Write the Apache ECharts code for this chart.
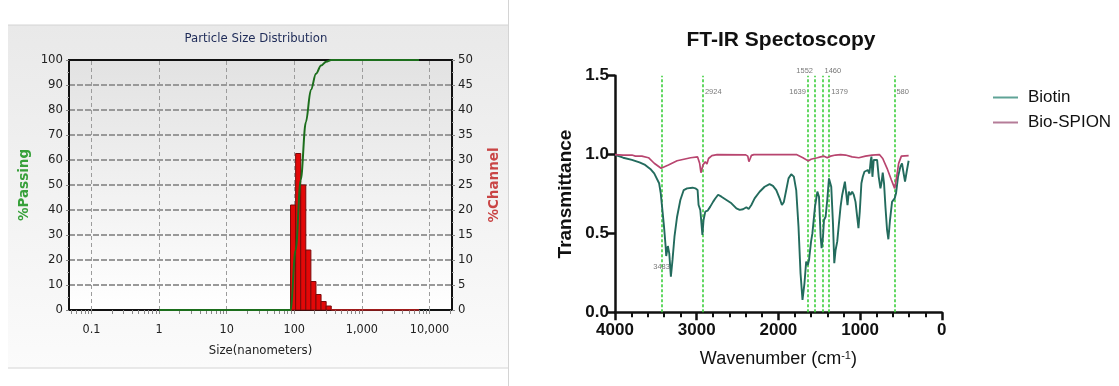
<!DOCTYPE html>
<html><head><meta charset="utf-8">
<script src="https://cdn.jsdelivr.net/npm/echarts@6/dist/echarts.min.js"></script>
<style>html,body{margin:0;padding:0;background:#fff}#c{width:1119px;height:386px}</style>
</head><body><div id="c"></div>
<script>
// ---------- Particle Size Distribution (left) ----------
const psdTickValues = [0.1, 1, 10, 100, 1000, 10000];
const psdTickLabels = ['0.1', '1', '10', '100', '1,000', '10,000'];
const psdRange = [0.0466, 21500];
const channelEdges = [88, 104.7, 124.5, 148, 176, 209.3, 248.9, 296, 352];
const channelPercent = [21, 31.3, 25, 12, 5.7, 3.1, 1.7, 0.8];
const channelZeroSizes = [352, 7000];
const channelZeroValues = [0, 0];
const passingSizes = [1, 88, 104.7, 124.5, 148, 176, 209.3, 248.9, 296, 352, 7000];
const passingPercent = [0, 0, 24, 52, 75, 88, 94.5, 97.8, 99.3, 100, 100];

// ---------- FT-IR Spectroscopy (right) ----------
const biotinWave = [4000,3900,3793,3700,3631,3560,3520,3460,3440,3420,3400,3380,3373,3353,3336,3316,3296,3272,3240,3200,3159,3118,3050,3017,2989,2977,2956,2930,2916,2895,2867,2834,2800,2775,2738,2697,2636,2575,2514,2474,2433,2392,2364,2331,2291,2230,2169,2108,2067,2026,1985,1957,1933,1904,1876,1843,1811,1782,1754,1729,1705,1681,1660,1640,1625,1600,1584,1552,1523,1503,1483,1471,1454,1442,1422,1402,1381,1369,1353,1332,1316,1300,1280,1259,1239,1219,1207,1186,1170,1154,1138,1117,1097,1077,1056,1036,1020,1004,984,967,947,926,906,886,869,861,849,833,813,792,772,751,739,723,707,690,670,654,634,609,589,577,560,536,507,487,467,450,430,406];
const biotinT = [0.998,0.98,0.966,0.95,0.934,0.905,0.881,0.818,0.754,0.649,0.543,0.416,0.357,0.42,0.374,0.226,0.332,0.479,0.606,0.712,0.775,0.786,0.79,0.786,0.775,0.68,0.649,0.49,0.585,0.638,0.644,0.67,0.70,0.72,0.745,0.733,0.712,0.691,0.659,0.649,0.653,0.666,0.655,0.68,0.722,0.764,0.796,0.813,0.802,0.775,0.722,0.68,0.70,0.775,0.849,0.875,0.86,0.775,0.543,0.247,0.078,0.184,0.321,0.30,0.332,0.45,0.50,0.67,0.765,0.733,0.479,0.406,0.479,0.585,0.606,0.712,0.849,0.855,0.796,0.564,0.311,0.395,0.448,0.564,0.67,0.744,0.733,0.828,0.754,0.68,0.765,0.744,0.765,0.744,0.70,0.606,0.533,0.638,0.818,0.859,0.891,0.88,0.902,0.88,0.966,0.987,0.859,0.966,0.97,0.966,0.859,0.786,0.818,0.886,0.818,0.67,0.522,0.463,0.585,0.70,0.70,0.722,0.754,0.859,0.923,0.944,0.88,0.828,0.891,0.961];
const spionWave = [4000,3900,3793,3750,3732,3700,3671,3590,3520,3436,3346,3240,3074,2989,2964,2948,2923,2895,2875,2855,2814,2750,2400,2375,2361,2345,2330,2300,1780,1700,1636,1600,1564,1523,1483,1462,1442,1402,1361,1300,1239,1178,1097,1016,935,853,764,723,670,617,577,552,528,495,406];
const spionT = [1.0,0.997,0.997,0.99,0.992,0.99,0.99,0.98,0.945,0.913,0.934,0.961,0.98,0.985,0.945,0.885,0.934,0.955,0.94,0.975,0.993,1.0,0.998,0.99,0.955,0.975,0.995,1.0,1.0,0.98,0.96,0.97,0.975,0.98,0.985,0.975,0.99,0.98,0.99,0.997,1.0,0.997,0.985,0.98,0.99,0.997,1.0,0.975,0.913,0.839,0.786,0.859,0.944,0.99,0.993];
const peakWave = [3430, 2924, 1639, 1552, 1460, 1379, 580];
const peakText = ['3483', '2924', '1639', '1552', '1460', '1379', '580'];

// annotation placement (not data)
const peakLabelLevel = [0.29, 1.40, 1.40, 1.53, 1.53, 1.40, 1.40];
const peakLabelSide = ['inside', 'right', 'left', 'left', 'right', 'right', 'right'];

const lg = Math.log10;
const minorTicks = [];
for (let e = -2; e <= 4; e++) for (let k = 1; k <= 9; k++) {
  const v = k * Math.pow(10, e);
  if (v >= psdRange[0] && v <= psdRange[1]) minorTicks.push(lg(v));
}
const barData = channelPercent.map((v, i) => [lg(channelEdges[i]), lg(channelEdges[i + 1]), v]);
const passingData = passingSizes.map((s, i) => [lg(s), passingPercent[i]]);
const zeroData = channelZeroSizes.map((s, i) => [lg(s), channelZeroValues[i]]);
const biotinData = biotinWave.map((w, i) => [w, biotinT[i]]);
const spionData = spionWave.map((w, i) => [w, spionT[i]]);
const peakLabelData = peakWave.map((w, i) => ({
  value: [w, peakLabelLevel[i]],
  label: { show: true, formatter: peakText[i], position: peakLabelSide[i], distance: 2 }
}));

const smallFont = 'DejaVu Sans Condensed';
const arial = 'Liberation Sans, Arial';
const chart = echarts.init(document.getElementById('c'), null, { renderer: 'canvas' });
chart.setOption({
  animation: false,
  backgroundColor: '#ffffff',
  graphic: [
    { type: 'rect', z: -100, shape: { x: 8, y: 25, width: 500, height: 343 },
      style: { fill: new echarts.graphic.LinearGradient(0, 0, 0, 1, [
        { offset: 0, color: '#e9e9e9' }, { offset: 1, color: '#fbfbfb' }]) } },
    { type: 'line', z: -99, shape: { x1: 8, y1: 25, x2: 508, y2: 25 }, style: { stroke: '#d4d4d4', lineWidth: 1 } },
    { type: 'line', z: -99, shape: { x1: 8, y1: 368, x2: 508, y2: 368 }, style: { stroke: '#d4d4d4', lineWidth: 1 } },
    { type: 'line', z: -99, shape: { x1: 508.5, y1: 0, x2: 508.5, y2: 386 }, style: { stroke: '#d4d4d4', lineWidth: 1 } },
    { type: 'text', x: 256, y: 39, style: { text: 'Particle Size Distribution', font: '13px "DejaVu Sans Condensed"', fill: '#1d2a57', align: 'center', verticalAlign: 'middle' } },
    { type: 'text', x: 781, y: 40, style: { text: 'FT-IR Spectoscopy', font: 'bold 21px "Liberation Sans", Arial', fill: '#111', align: 'center', verticalAlign: 'middle' } }
  ],
  grid: [
    { left: 69, top: 60, width: 383, height: 250, show: true, borderColor: '#111', borderWidth: 2,
      backgroundColor: new echarts.graphic.LinearGradient(0, 0, 0, 1, [
        { offset: 0, color: '#e2e2e2' }, { offset: 1, color: '#ffffff' }]),
      containLabel: false, outerBoundsMode: 'none' },
    { left: 615, top: 75.7, width: 326.8, height: 236.6, containLabel: false, outerBoundsMode: 'none' }
  ],
  legend: {
    orient: 'vertical', left: 988, top: 84, itemWidth: 25, itemHeight: 2, itemGap: 8, icon: 'rect',
    textStyle: { fontSize: 17, color: '#111', fontFamily: arial, padding: [0, 0, 0, 5] },
    data: [
      { name: 'Biotin', itemStyle: { color: '#5fa396' } },
      { name: 'Bio-SPION', itemStyle: { color: '#b57c98' } }
    ]
  },
  xAxis: [
    { gridIndex: 0, type: 'value', min: lg(psdRange[0]), max: lg(psdRange[1]),
      name: 'Size(nanometers)', nameLocation: 'middle', nameGap: 34,
      nameTextStyle: { fontFamily: smallFont, fontSize: 13, color: '#222' },
      axisLine: { show: true, onZero: false, lineStyle: { color: '#111', width: 2 } },
      axisTick: { show: true, customValues: minorTicks, length: 4, lineStyle: { color: '#888' } },
      axisLabel: { customValues: psdTickValues.map(lg), margin: 13, fontFamily: smallFont, fontSize: 12.5, color: '#222',
        formatter: v => { const i = psdTickValues.findIndex(t => Math.abs(lg(t) - v) < 1e-6); return i >= 0 ? psdTickLabels[i] : ''; } },
      splitLine: { show: false } },
    { gridIndex: 1, type: 'value', inverse: true, min: 0, max: 4000, interval: 1000,
      name: 'Wavenumber (cm{sup|-1})', nameLocation: 'middle', nameGap: 38,
      nameTextStyle: { fontSize: 18, color: '#111', fontFamily: arial,
        rich: { sup: { fontSize: 11, verticalAlign: 'top', color: '#111', fontFamily: arial } } },
      axisLine: { show: true, onZero: false, lineStyle: { color: '#111', width: 2.5 } },
      axisTick: { show: true, length: 8, lineStyle: { color: '#111', width: 2.5 } },
      minorTick: { show: true, splitNumber: 5, length: 5, lineStyle: { color: '#111', width: 2 } },
      axisLabel: { fontSize: 17, fontWeight: 'bold', color: '#111', margin: 10, fontFamily: arial,
        formatter: v => String(v) },
      splitLine: { show: false } }
  ],
  yAxis: [
    { gridIndex: 0, type: 'value', min: 0, max: 100, interval: 10, position: 'left',
      name: '%Passing', nameLocation: 'middle', nameGap: 38, nameRotate: 90,
      nameTextStyle: { color: '#37a03a', fontWeight: 'bold', fontFamily: 'DejaVu Sans', fontSize: 13.5 },
      axisLine: { show: true, onZero: false, lineStyle: { color: '#111', width: 2 } },
      axisTick: { show: true, length: 3, lineStyle: { color: '#888' } },
      minorTick: { show: true, splitNumber: 2, length: 2, lineStyle: { color: '#aaa' } },
      axisLabel: { fontFamily: smallFont, fontSize: 13, color: '#222', margin: 6 },
      splitLine: { show: true, showMinLine: false, showMaxLine: false, lineStyle: { color: '#999', width: 2, type: [6, 2] } } },
    { gridIndex: 0, type: 'value', min: 0, max: 50, interval: 5, position: 'right',
      name: '%Channel', nameLocation: 'middle', nameGap: 35, nameRotate: 90,
      nameTextStyle: { color: '#c94545', fontWeight: 'bold', fontFamily: 'DejaVu Sans', fontSize: 13.5 },
      axisLine: { show: true, onZero: false, lineStyle: { color: '#111', width: 2 } },
      axisTick: { show: true, length: 3, lineStyle: { color: '#888' } },
      minorTick: { show: true, splitNumber: 2, length: 2, lineStyle: { color: '#aaa' } },
      axisLabel: { fontFamily: smallFont, fontSize: 13, color: '#222', margin: 6 },
      splitLine: { show: false } },
    { gridIndex: 1, type: 'value', min: 0, max: 1.5, interval: 0.5, position: 'left',
      name: 'Transmittance', nameLocation: 'middle', nameGap: 40,
      nameTextStyle: { fontSize: 19, fontWeight: 'bold', color: '#111', fontFamily: arial },
      axisLine: { show: true, onZero: false, lineStyle: { color: '#111', width: 2.5 } },
      axisTick: { show: true, length: 7, lineStyle: { color: '#111', width: 2.5 } },
      axisLabel: { fontSize: 17, fontWeight: 'bold', color: '#111', margin: 6, fontFamily: arial,
        formatter: v => v.toFixed(1) },
      splitLine: { show: false } }
  ],
  series: [
    { type: 'custom', name: 'Channel', xAxisIndex: 0, yAxisIndex: 1, z: 3,
      data: barData, encode: { x: [0, 1], y: 2 },
      renderItem: (params, api) => {
        const p0 = api.coord([api.value(0), api.value(2)]);
        const p1 = api.coord([api.value(1), 0]);
        return { type: 'rect', shape: { x: p0[0], y: p0[1], width: p1[0] - p0[0], height: p1[1] - p0[1] },
          style: { fill: '#e30808', stroke: '#7a0a0a', lineWidth: 1 } };
      } },
    { type: 'line', name: 'ChannelZero', xAxisIndex: 0, yAxisIndex: 1, z: 4, symbol: 'none',
      data: zeroData, lineStyle: { color: '#d02020', width: 1.5 } },
    { type: 'line', name: 'Passing', xAxisIndex: 0, yAxisIndex: 0, z: 5, symbol: 'none',
      smooth: 0.35, smoothMonotone: 'x', data: passingData, lineStyle: { color: '#1c6e1c', width: 2 },
      markLine: { silent: true, symbol: 'none', label: { show: false }, z: 1,
        lineStyle: { color: '#9c9c9c', width: 1, type: [4, 3] },
        data: psdTickValues.map(v => ({ xAxis: lg(v) })) } },
    { type: 'line', name: 'Biotin', xAxisIndex: 1, yAxisIndex: 2, symbol: 'none', z: 4,
      data: biotinData, lineStyle: { color: '#236b5d', width: 1.9 },
      markLine: { silent: true, symbol: 'none', label: { show: false }, z: 2,
        lineStyle: { color: '#3ccf3c', width: 1.6, type: [3, 2] },
        data: peakWave.map(w => ({ xAxis: w })) } },
    { type: 'line', name: 'Bio-SPION', xAxisIndex: 1, yAxisIndex: 2, symbol: 'none', z: 5,
      data: spionData, lineStyle: { color: '#b8456f', width: 1.7 } },
    { type: 'scatter', name: 'peaks', xAxisIndex: 1, yAxisIndex: 2, symbolSize: 0, clip: false, silent: true, z: 6,
      data: peakLabelData,
      label: { fontSize: 7.5, color: '#555', fontFamily: arial } }
  ]
});
</script></body></html>
